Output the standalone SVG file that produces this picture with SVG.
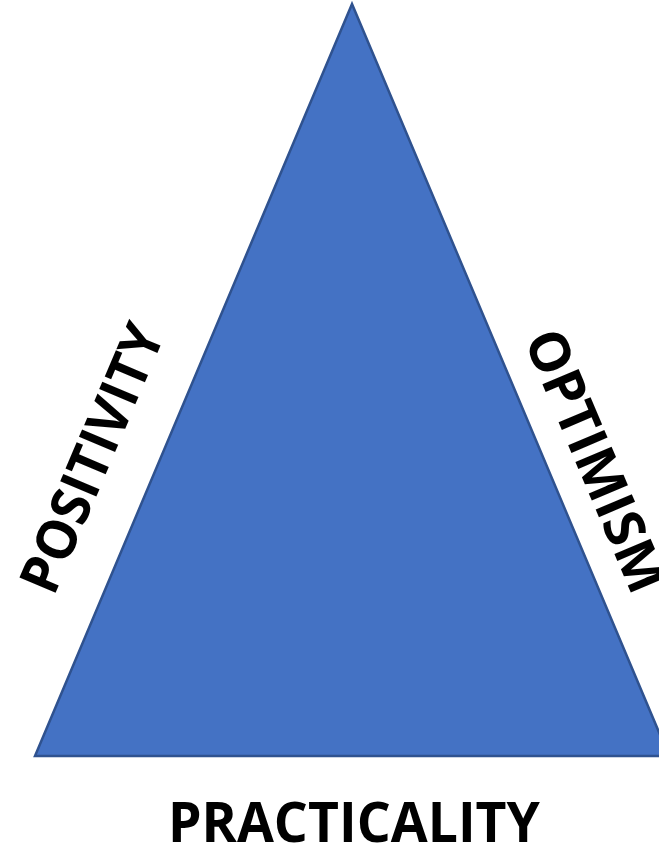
<svg xmlns="http://www.w3.org/2000/svg" width="659" height="849" viewBox="0 0 659 849">
<style>
.lbl{font-family:"Open Sans","Liberation Sans",sans-serif;font-weight:bold;font-size:55px;fill:#000}
</style>
<rect width="659" height="849" fill="#fff"/>
<g id="triangle">
<polygon points="352,4 35,756 669,756" fill="#4472C4" stroke="#2F528F" stroke-width="2.5" stroke-linejoin="miter"/>
</g>
<g id="positivity">
<text class="lbl" text-anchor="middle" textLength="286" lengthAdjust="spacingAndGlyphs" transform="translate(109.5,465.6) rotate(-67)">POSITIVITY</text>
</g>
<g id="optimism">
<text class="lbl" text-anchor="start" textLength="280" lengthAdjust="spacingAndGlyphs" transform="translate(523.4,339.5) rotate(67)">OPTIMISM</text>
</g>
<g id="practicality">
<text class="lbl" x="168" y="842" textLength="372" lengthAdjust="spacingAndGlyphs">PRACTICALITY</text>
</g>
<g id="connectors"/>
</svg>
